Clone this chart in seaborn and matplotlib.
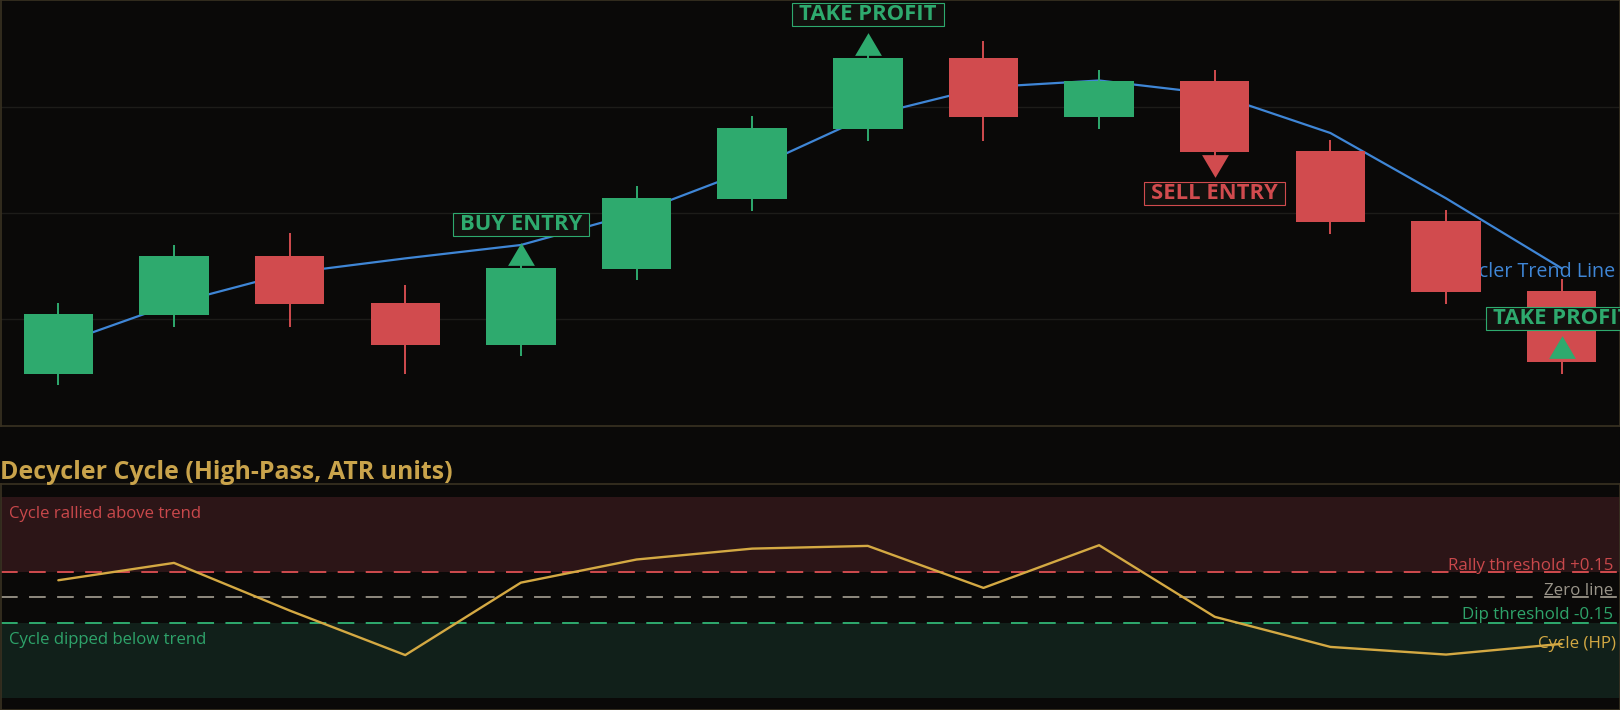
import numpy as np
import pandas as pd
import matplotlib
matplotlib.use("Agg")
import matplotlib.pyplot as plt
import seaborn as sns
from matplotlib.path import Path
from matplotlib import transforms

# ---------------- data ----------------
bars = list(range(14))
open_ = [100.978, 102.088, 103.193, 102.309, 101.524, 102.954, 104.271,
         105.588, 106.918, 105.814, 106.485, 105.168, 103.851, 102.534]
close = [102.102, 103.193, 102.295, 101.524, 102.967, 104.284, 105.601,
         106.918, 105.814, 106.485, 105.155, 103.838, 102.521, 101.204]
high = [102.309, 103.400, 103.626, 102.647, 103.080, 104.510, 105.827,
        107.030, 107.238, 106.692, 106.692, 105.375, 104.058, 102.754]
low = [100.763, 101.863, 101.863, 100.978, 101.317, 102.747, 104.045,
       105.362, 105.362, 105.588, 105.037, 103.612, 102.295, 100.978]
trend = [101.528, 102.299, 102.873, 103.148, 103.400, 104.002, 104.830,
         105.827, 106.366, 106.495, 106.241, 105.507, 104.278, 102.961]
cycle = [0.100, 0.202, -0.078, -0.340, 0.086, 0.222, 0.286,
         0.302, 0.055, 0.306, -0.115, -0.292, -0.337, -0.274]

signal_bars = [4, 7, 10, 13]
signal_text = ["BUY ENTRY", "TAKE PROFIT", "SELL ENTRY", "TAKE PROFIT"]
signal_dir = ["up", "up", "down", "up"]

price_grid = [102, 104, 106]
price_limits = (100, 108)
rally_thr = 0.15
dip_thr = -0.15
zone_edge = 0.59
cycle_limits = (-0.66, 0.666)

title = "Decycler Cycle (High-Pass, ATR units)"

# ---------------- style ----------------
BG = "#0a0908"
GRID = "#1d1c19"
SPINE = "#3a3222"
GREEN = "#2eaa6e"
RED = "#d14b4e"
BLUE = "#3f86d6"
GOLD = "#d4a943"
TITLE_GOLD = "#c9a34b"
GREY = "#8f8a7f"

sns.set_theme(style="dark")
plt.rcParams["font.family"] = ["Open Sans", "DejaVu Sans"]
plt.rcParams["lines.scale_dashes"] = False
plt.rcParams["axes.facecolor"] = BG
plt.rcParams["figure.facecolor"] = BG

W, H = 1620, 710
fig = plt.figure(figsize=(W / 100, H / 100), dpi=100)

ax = fig.add_axes([0.5 / W, (H - 425.7) / H, 1619 / W, (425.7 - 0.5) / H])
ax2 = fig.add_axes([0.5 / W, (H - 709.5) / H, 1619 / W, (709.5 - 484) / H])

for a in (ax, ax2):
    a.set_facecolor(BG)
    for s in a.spines.values():
        s.set_color(SPINE)
        s.set_linewidth(1.2)
    a.set_xticks([])
    a.set_yticks([])
    a.set_xlim(-0.5, 13.5)
    a.grid(False)

# ---------------- price panel ----------------
for g in price_grid:
    ax.axhline(g, color=GRID, lw=1.0, zorder=0.5)

df = pd.DataFrame({"bar": bars, "trend": trend, "cycle": cycle})
sns.lineplot(data=df, x="bar", y="trend", ax=ax, color=BLUE, lw=1.6, zorder=2)

colors = [GREEN if c >= o else RED for o, c in zip(open_, close)]
ax.vlines(bars, low, high, colors=colors, lw=1.4, zorder=2.9)
ax.bar(bars, np.array(close) - np.array(open_), bottom=open_, width=0.6,
       color=colors, linewidth=0, zorder=3)

blend = transforms.blended_transform_factory(ax.transAxes, ax.transData)
lbl_tr = transforms.offset_copy(blend, fig=fig, x=0, y=-4, units="dots")
ax.text(0.9972, trend[-1], "Decycler Trend Line", transform=lbl_tr, ha="right",
        va="center", color=BLUE, fontsize=14.2, zorder=2.5)


class LabelBox:
    def __init__(self, padx, pady):
        self.padx = padx
        self.pady = pady

    def __call__(self, x0, y0, width, height, mutation_size):
        px = self.padx * mutation_size
        py = self.pady * mutation_size
        xa, ya = x0 - px, y0 - py
        xb, yb = x0 + width + px, y0 + height + py
        return Path([(xa, ya), (xb, ya), (xb, yb), (xa, yb), (xa, ya)], closed=True)


tri_up = [(0, 1), (-1.18, -1), (1.18, -1)]
tri_dn = [(0, -1), (-1.18, 1), (1.18, 1)]

for i, txt, d in zip(signal_bars, signal_text, signal_dir):
    col = GREEN if d == "up" else RED
    sgn = 1 if d == "up" else -1
    yv = close[i]
    tr = transforms.offset_copy(ax.transData, fig=fig, x=0, y=sgn * 14.5, units="dots")
    ax.plot([i], [yv], linestyle="none", marker=tri_up if d == "up" else tri_dn,
            ms=19.3, color=col, mew=0, transform=tr, zorder=4, clip_on=False)
    ax.annotate(txt, xy=(i, yv), xytext=(0, sgn * (43.5 if d == "up" else 42)),
                textcoords="offset pixels", ha="center", va="center",
                fontsize=15.8, fontweight="bold", color=col, zorder=5,
                bbox=dict(boxstyle=LabelBox(0.33, 0.055), fc="#12110e", ec=col, lw=0.8))

ax.set_ylim(*price_limits)
ax.set_xlim(-0.5, 13.5)

# ---------------- cycle panel ----------------
ax2.axhspan(rally_thr, zone_edge, color="#2c1517", lw=0, zorder=0.2)
ax2.axhspan(-zone_edge, dip_thr, color="#11201a", lw=0, zorder=0.2)
dash = (0, (12, 8.2))
ax2.axhline(rally_thr, color=RED, lw=1.4, linestyle=dash, zorder=1)
ax2.axhline(0, color=GREY, lw=1.4, linestyle=dash, zorder=1)
ax2.axhline(dip_thr, color=GREEN, lw=1.4, linestyle=dash, zorder=1)

sns.lineplot(data=df, x="bar", y="cycle", ax=ax2, color=GOLD, lw=1.7, zorder=3)

b2 = transforms.blended_transform_factory(ax2.transAxes, ax2.transData)
ax2.text(0.005, zone_edge - 0.126, "Cycle rallied above trend", transform=b2,
         ha="left", va="baseline", color="#c9484b", fontsize=12.1)
ax2.text(0.005, dip_thr - 0.127, "Cycle dipped below trend", transform=b2,
         ha="left", va="baseline", color="#2ea36a", fontsize=12.1)
ax2.text(0.996, rally_thr + 0.01, "Rally threshold +0.15", transform=b2,
         ha="right", va="baseline", color="#c9484b", fontsize=12.2)
ax2.text(0.996, 0.013, "Zero line", transform=b2,
         ha="right", va="baseline", color="#9a958a", fontsize=12.2)
ax2.text(0.996, dip_thr + 0.02, "Dip threshold -0.15", transform=b2,
         ha="right", va="baseline", color="#2ea36a", fontsize=12.2)
ax2.text(0.9976, cycle[-1], "Cycle (HP)", transform=b2,
         ha="right", va="center", color=GOLD, fontsize=12.2, zorder=2)

ax2.set_ylim(*cycle_limits)
ax2.set_xlim(-0.5, 13.5)
for a in (ax, ax2):
    a.set_xlabel("")
    a.set_ylabel("")

fig.text(0.0, (H - 479) / H, title, ha="left", va="baseline",
         fontsize=17.95, fontweight="bold", color=TITLE_GOLD)

fig.savefig("out.png", dpi=100, facecolor=BG)
